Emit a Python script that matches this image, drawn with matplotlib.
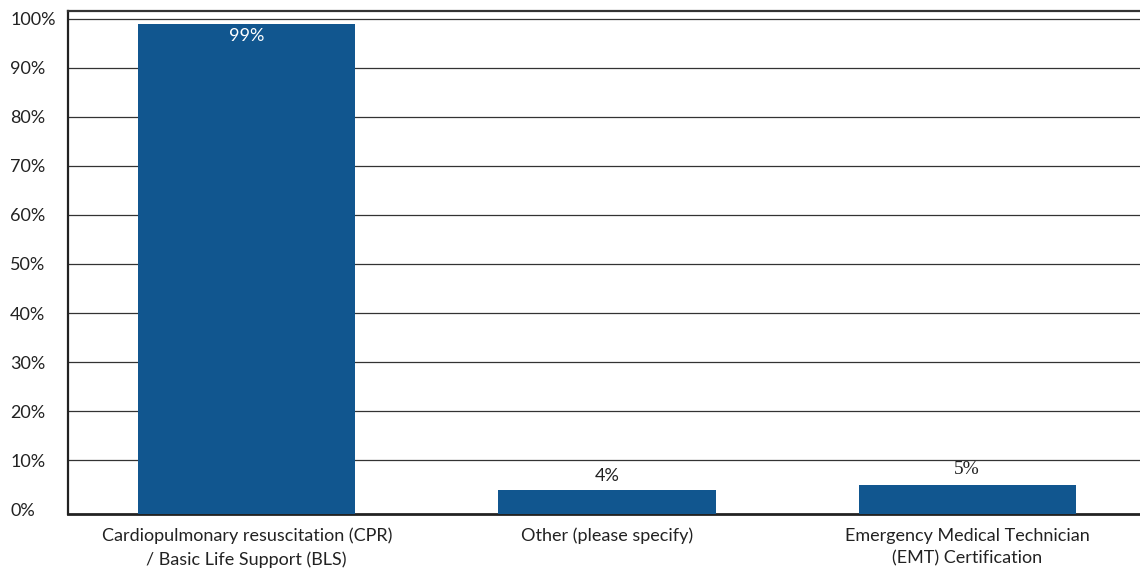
import numpy as np
import matplotlib.pyplot as plt
from matplotlib.ticker import PercentFormatter

# survey responses: share of respondents per certification
categories = ['Cardiopulmonary resuscitation (CPR)\n/ Basic Life Support (BLS)',
              'Other (please specify)',
              'Emergency Medical Technician\n(EMT) Certification']
shares = [0.99, 0.04, 0.05]
share_labels = ['99%', '4%', '5%']
yticks = np.arange(0, 1.01, 0.1)

bar_color = '#11568f'
text_color = '#222222'
plt.rcParams['font.family'] = ['Lato', 'DejaVu Sans']

fig = plt.figure(figsize=(11.4, 5.71), dpi=100)
ax = fig.add_axes([0.060, 0.0998, 0.940, 0.8809])

ylo, yhi = -0.01, 1.016
ax.set_ylim(ylo, yhi)
ax.set_xlim(-0.495, 2.48)

x = np.arange(len(categories))
# bars sit on the bottom spine
ax.bar(x, np.array(shares) - ylo, bottom=ylo, width=0.603, color=bar_color, zorder=3)

for i, (v, lab) in enumerate(zip(shares, share_labels)):
    if v > 0.5:
        ax.text(i, v - 0.008, lab, ha='center', va='top', color='white', fontsize=13, zorder=4)
    elif i == 2:
        ax.text(i, v + 0.014, lab, ha='center', va='bottom', color=text_color, fontsize=14,
                family=['Liberation Serif'], zorder=4)
    else:
        ax.text(i, v + 0.012, lab, ha='center', va='bottom', color=text_color, fontsize=13, zorder=4)

# horizontal gridlines (none at 0, the spine covers it)
ax.hlines(yticks[1:], -0.495, 2.48, color='#333333', linewidth=0.9, zorder=0)

ax.set_yticks(yticks)
ax.yaxis.set_major_formatter(PercentFormatter(1.0, decimals=0))
ax.set_xticks(x)
ax.set_xticklabels(categories, linespacing=1.5)
ax.tick_params(axis='y', length=0, pad=42, labelsize=13, labelcolor=text_color)
for t in ax.get_yticklabels():
    t.set_horizontalalignment('left')
ax.tick_params(axis='x', length=0, pad=10, labelsize=13, labelcolor=text_color)

ax.spines['right'].set_visible(False)
ax.spines['top'].set_color('#333333')
ax.spines['top'].set_linewidth(1.6)
ax.spines['left'].set_color('#222222')
ax.spines['left'].set_linewidth(1.6)
ax.spines['bottom'].set_color('#222222')
ax.spines['bottom'].set_linewidth(2.0)

fig.savefig('out.png', dpi=100)
